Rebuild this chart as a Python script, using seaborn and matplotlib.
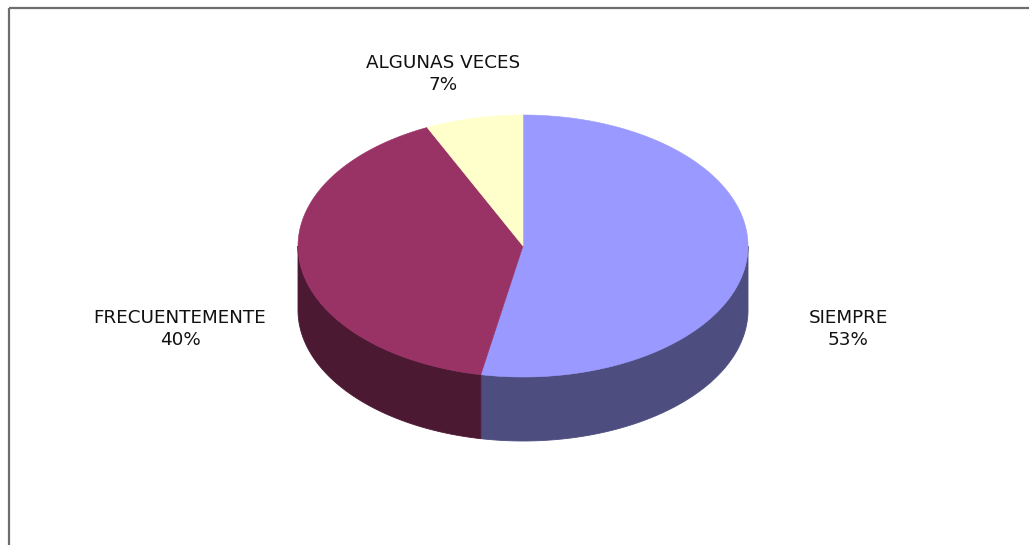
import numpy as np
import matplotlib
matplotlib.use("Agg")
import matplotlib.pyplot as plt
import seaborn as sns

# Survey answers and their shares (percent)
categories = ["SIEMPRE", "FRECUENTEMENTE", "ALGUNAS VECES"]
values = [53, 40, 7]

# Slice colours: top faces and shaded side walls
top_colors = ["#9999FF", "#993366", "#FFFFCC"]
side_colors = ["#4D4D80", "#4C1933", "#808066"]

sns.set_theme(style="white")
plt.rcParams["font.family"] = ["DejaVu Sans"]

W, H = 1029, 545
fig = plt.figure(figsize=(W / 100, H / 100), dpi=100)
ax = fig.add_axes([0, 0, 1, 1])
ax.set_xlim(0, W)
ax.set_ylim(H, 0)
ax.axis("off")

# Pie geometry (pixel units): centre, radii of the tilted disc, wall depth
cx, cy, rx, ry, depth = 523, 246, 225, 131, 64


def ellipse_pts(t0, t1, n=200, dy=0.0):
    t = np.radians(np.linspace(t0, t1, n))
    return cx + rx * np.sin(t), cy - ry * np.cos(t) + dy


total = float(sum(values))
bounds = np.concatenate([[0], np.cumsum(values) / total * 360.0])

# Side walls (only the front half, 90..270 deg clockwise from top, is visible)
for i in range(len(values)):
    a0, a1 = max(bounds[i], 90.0), min(bounds[i + 1], 270.0)
    if a1 <= a0:
        continue
    xt, yt = ellipse_pts(a0, a1)
    xb, yb = ellipse_pts(a0, a1, dy=depth)
    ax.fill(np.concatenate([xt, xb[::-1]]), np.concatenate([yt, yb[::-1]]),
            facecolor=side_colors[i], edgecolor=side_colors[i], lw=0.6)

# Top faces
for i in range(len(values)):
    xa, ya = ellipse_pts(bounds[i], bounds[i + 1])
    ax.fill(np.concatenate([[cx], xa, [cx]]), np.concatenate([[cy], ya, [cy]]),
            facecolor=top_colors[i], edgecolor=top_colors[i], lw=0.4)

# Category labels with percentages
label_pos = [(848, 329), (180, 329), (443, 74)]
for cat, v, (lx, ly) in zip(categories, values, label_pos):
    ax.text(lx, ly, f"{cat}\n{round(v / total * 100)}%", ha="center", va="center",
            multialignment="center", fontsize=13.2, color="#111111", linespacing=1.25)

# Chart-area frame (top and left edges)
ax.plot([9, W + 5], [7.5, 7.5], color="#6E6E6E", lw=1.6, solid_capstyle="butt")
ax.plot([9, 9], [7.5, H + 5], color="#6E6E6E", lw=1.6, solid_capstyle="butt")

fig.savefig("out.png", dpi=100, facecolor="white")
